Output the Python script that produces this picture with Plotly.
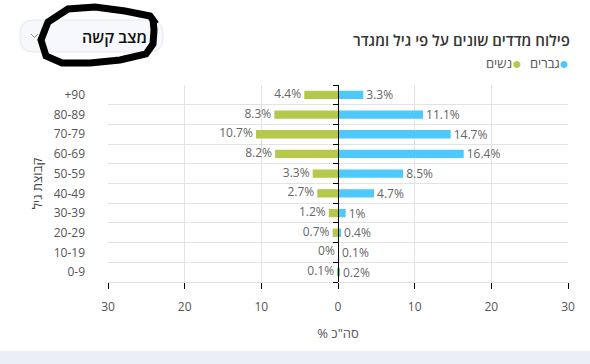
import plotly.graph_objects as go

age_groups = ["0-9", "10-19", "20-29", "30-39", "40-49", "50-59", "60-69", "70-79", "80-89", "+90"]
men = [0.2, 0.1, 0.4, 1, 4.7, 8.5, 16.4, 14.7, 11.1, 3.3]
women = [0.1, 0, 0.7, 1.2, 2.7, 3.3, 8.2, 10.7, 8.3, 4.4]
x_ticks = [-30, -20, -10, 0, 10, 20, 30]

BLUE = "#4ec9fb"
GREEN = "#b5c84b"
FONT = "Open Sans, Noto Sans, sans-serif"

W, H = 590, 364
L, R, T, B = 108, 568, 85, 282


def px(x):
    return (x - L) / (R - L)


def py(y):
    return (B - y) / (B - T)


ypos = list(range(len(age_groups)))
women_neg = [-v for v in women]

fig = go.Figure()
fig.add_trace(go.Bar(
    y=ypos, x=men, orientation="h", marker=dict(color=BLUE, line=dict(width=0)),
    width=0.42, text=[f"{v:g}%" for v in men], textposition="outside", constraintext="none",
    textfont=dict(color="#666", size=12, family=FONT), cliponaxis=False,
    name="גברים", hoverinfo="skip"))
fig.add_trace(go.Bar(
    y=ypos, x=women_neg, orientation="h", marker=dict(color=GREEN, line=dict(width=0)),
    width=0.42, name="נשים", hoverinfo="skip"))
fig.add_trace(go.Scatter(
    y=ypos, x=women_neg, mode="text", text=[f"{v:g}%\u00a0" for v in women],
    textposition="middle left", textfont=dict(color="#666", size=12, family=FONT),
    cliponaxis=False, hoverinfo="skip", showlegend=False))
# invisible helper trace so the zero axis (y2) is drawn
fig.add_trace(go.Scatter(x=[0], y=[0], yaxis="y2", mode="markers",
                         marker=dict(opacity=0), hoverinfo="skip", showlegend=False))

fig.update_layout(
    width=W, height=H,
    margin=dict(l=L, r=W - R, t=T, b=H - B),
    paper_bgcolor="white", plot_bgcolor="white",
    barmode="overlay", showlegend=False,
    font=dict(family=FONT, color="#444", size=12),
    xaxis=dict(range=[-30, 30], tickvals=x_ticks, ticktext=[str(abs(v)) for v in x_ticks],
               showgrid=True, gridcolor="#e3e3e3", zeroline=False,
               showline=True, linecolor="#e3e3e3", ticks="outside", ticklen=6,
               tickcolor="black", ticklabelstandoff=8,
               tickfont=dict(size=12, color="#555"),
               title=dict(text="% סה\"כ", font=dict(size=13, color="#555"), standoff=14)),
    yaxis=dict(range=[-0.5, len(age_groups) - 0.5], tickvals=ypos, ticktext=age_groups,
               showgrid=False, zeroline=False, ticks="", ticklabelstandoff=22,
               tickfont=dict(size=12, color="#555"),
               minor=dict(tickvals=[i - 0.5 for i in range(len(age_groups) + 1)],
                          showgrid=True, gridcolor="#e3e3e3", ticks=""),
               title=dict(text="קבוצת גיל", font=dict(size=13, color="#444"), standoff=8)),
    yaxis2=dict(overlaying="y", anchor="free", position=0.5, side="left",
                range=[-0.5, len(age_groups) - 0.5],
                tickvals=[i - 0.5 for i in range(len(age_groups) + 1)],
                showticklabels=False, ticks="outside", ticklen=5, tickcolor="black",
                showgrid=False, zeroline=False, showline=True, linecolor="black", linewidth=1),
)

shapes = []
# bottom band
shapes.append(dict(type="rect", xref="paper", yref="paper", x0=px(0), x1=px(W), y0=py(351), y1=py(H),
                   fillcolor="#ebeef7", line=dict(width=0), layer="below"))


# dropdown rounded box
def rrect(x0, y0, x1, y1, r):
    pts = [
        f"M{px(x0 + r)},{py(y0)}", f"L{px(x1 - r)},{py(y0)}",
        f"Q{px(x1)},{py(y0)} {px(x1)},{py(y0 + r)}", f"L{px(x1)},{py(y1 - r)}",
        f"Q{px(x1)},{py(y1)} {px(x1 - r)},{py(y1)}", f"L{px(x0 + r)},{py(y1)}",
        f"Q{px(x0)},{py(y1)} {px(x0)},{py(y1 - r)}", f"L{px(x0)},{py(y0 + r)}",
        f"Q{px(x0)},{py(y0)} {px(x0 + r)},{py(y0)}", "Z"]
    return " ".join(pts)


shapes.append(dict(type="path", xref="paper", yref="paper", path=rrect(20, 20, 163, 52, 14),
                   fillcolor="#f7f8fb", line=dict(color="#e6e8ef", width=1)))
shapes.append(dict(type="path", xref="paper", yref="paper",
                   path=f"M{px(31)},{py(34)} L{px(34.5)},{py(37.5)} L{px(38)},{py(34)}",
                   line=dict(color="#8a8f99", width=1)))
# hand-drawn scribble
sc = [(156, 24), (150, 16), (125, 11), (95, 7), (68, 9), (48, 22), (41, 40), (46, 56), (62, 63),
      (90, 63), (120, 60), (146, 54), (153, 44), (154, 30), (153, 20)]
path = f"M{px(sc[0][0])},{py(sc[0][1])}"
for (x, y) in sc[1:]:
    path += f" L{px(x)},{py(y)}"
shapes.append(dict(type="path", xref="paper", yref="paper", path=path,
                   line=dict(color="black", width=7)))
fig.update_layout(shapes=shapes)

ann = [
    dict(text="מצב קשה", x=px(149), y=py(37), xanchor="right", yanchor="middle",
         font=dict(size=16, color="#111", weight=600)),
    dict(text="פילוח מדדים שונים על פי גיל ומגדר", x=px(572), y=py(40), xanchor="right",
         yanchor="middle", font=dict(size=15, color="#333", weight=600)),
    dict(text="●", x=px(571), y=py(63), xanchor="right", yanchor="middle",
         font=dict(size=16, color=BLUE)),
    dict(text="גברים", x=px(562), y=py(63), xanchor="right", yanchor="middle",
         font=dict(size=13, color="#555")),
    dict(text="●", x=px(524), y=py(63), xanchor="right", yanchor="middle",
         font=dict(size=16, color=GREEN)),
    dict(text="נשים", x=px(514), y=py(63), xanchor="right", yanchor="middle",
         font=dict(size=13, color="#555")),
]
for a in ann:
    a.update(xref="paper", yref="paper", showarrow=False)
fig.update_layout(annotations=ann)

fig.write_html("out.html", config={"displayModeBar": False},
               post_script="document.body.style.margin='0';")
